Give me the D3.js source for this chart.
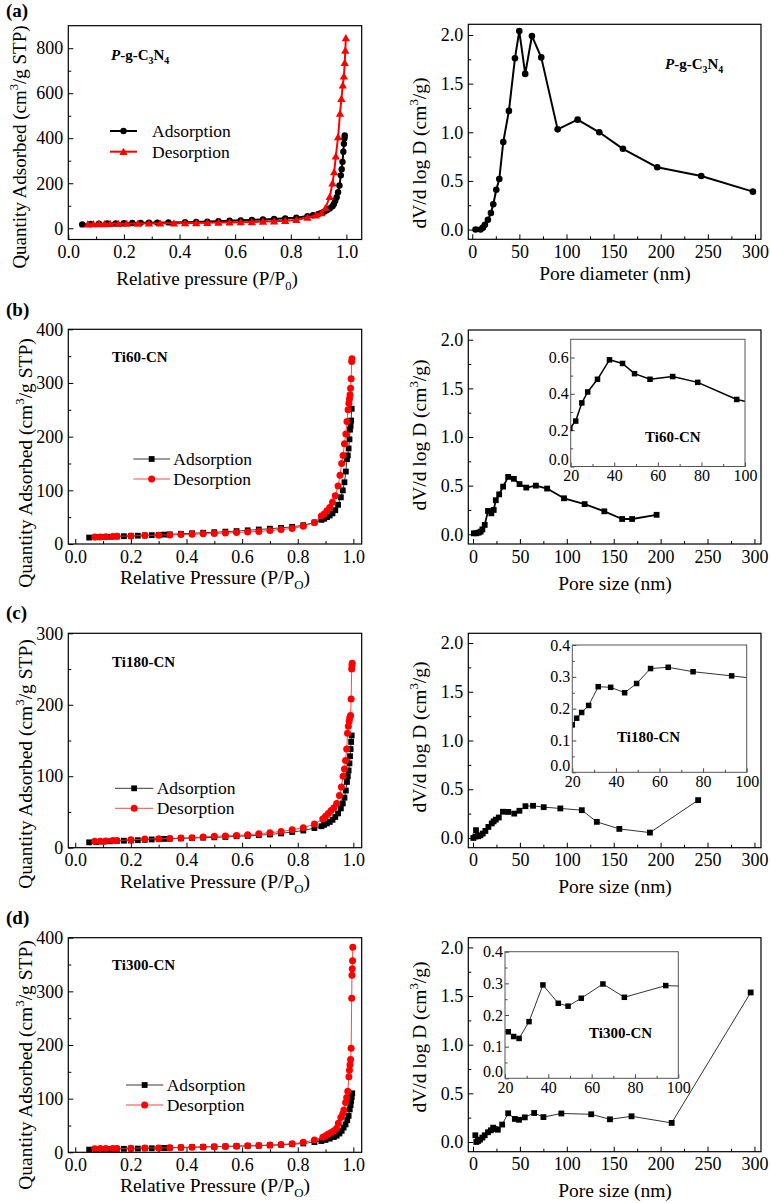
<!DOCTYPE html>
<html><head><meta charset="utf-8">
<script src="https://cdn.jsdelivr.net/npm/d3@7"></script>
<style>
body{margin:0;background:#fff}
svg{display:block}
text{font-family:"Liberation Serif","Times New Roman",serif;fill:#000}
</style>
</head><body>
<svg id="chart" width="770" height="1203"></svg>
<script>
// ---------------- DATA ----------------
// (a) P-g-C3N4 isotherm
const aAdsP = [0.05,0.08,0.11,0.14,0.17,0.2,0.23,0.26,0.29,0.32,0.36,0.42,0.46,0.5,0.54,0.58,0.62,0.66,0.7,0.74,0.78,0.82,0.86,0.88,0.9,0.91,0.92,0.93,0.94,0.95,0.955,0.96,0.965,0.97,0.975,0.98,0.983,0.986,0.989,0.991,0.993,0.994];
const aAdsQ = [17,19,20,21,21.5,22,23,24,24.5,25,26,27,28,29.5,31,33,35,37,39,41,44,47,54,58,64,68,73,80,88,98,108,122,138,160,190,235,262,295,340,375,400,412];
const aDesP = [0.07,0.09,0.11,0.13,0.15,0.18,0.21,0.25,0.29,0.33,0.38,0.42,0.46,0.5,0.54,0.58,0.62,0.66,0.7,0.74,0.78,0.82,0.86,0.89,0.91,0.925,0.94,0.95,0.956,0.962,0.97,0.977,0.982,0.987,0.991,0.994,0.996,0.998];
const aDesQ = [18,18.5,19,19,19.5,20,20.5,21,21.5,22,22.5,23,23.5,24,25,26,27,28,29.5,31,33,37,48,58,68,90,140,200,250,320,405,510,575,635,675,735,790,845];
// (a) pore size distribution
const aPoreD = [3.5,8.8,11.3,13.4,16.6,19.8,22.3,25.5,28.7,32.9,38.9,45.3,49.9,56.2,63.3,73.2,90.6,111.8,134.8,159.9,196.3,243,297.8];
const aPoreV = [0,0,0.02,0.05,0.1,0.17,0.26,0.41,0.52,0.9,1.22,1.76,2.04,1.6,1.99,1.77,1.03,1.13,1.0,0.83,0.64,0.55,0.39];

// (b) Ti60-CN
const bAdsP = [0.05,0.075,0.1,0.125,0.15,0.175,0.2,0.225,0.25,0.275,0.3,0.32,0.34,0.38,0.42,0.46,0.5,0.54,0.58,0.62,0.66,0.7,0.74,0.78,0.82,0.86,0.885,0.895,0.905,0.915,0.925,0.935,0.945,0.955,0.962,0.968,0.973,0.977,0.98,0.983,0.986,0.988,0.99,0.992,0.994];
const bAdsQ = [12,12.5,13,13.5,14,14.5,15,15.5,16,16.5,17,17.5,18,19,20,21,22,23,24,25.5,27,28.5,30,32,35,40,45,47,50,53,57,63,73,87,100,115,135,158,165,178,195,213,220,230,252];
const bDesP = [0.07,0.09,0.11,0.135,0.15,0.2,0.25,0.3,0.34,0.38,0.42,0.46,0.5,0.54,0.58,0.62,0.66,0.7,0.74,0.78,0.82,0.86,0.885,0.895,0.905,0.915,0.925,0.935,0.945,0.952,0.958,0.963,0.968,0.973,0.977,0.981,0.984,0.986,0.988,0.99,0.992,0.994,0.995];
const bDesQ = [13,13,13.5,14,14.5,15,16,16.5,17,17.5,18,19,19.5,20.5,21.5,22.5,23.5,25,27,29,33,40,52,56,62,68,78,90,108,128,150,165,187,205,228,250,262,270,278,290,308,340,345];
const bPoreD = [1,3.6,6,8.2,10,12.5,16,19.6,22.1,24.3,27.9,32.1,37.5,43.6,49.6,56.8,67,79,97,119,140,159,169.6,195.7];
const bPoreV = [0.01,0.01,0.017,0.027,0.05,0.096,0.24,0.215,0.25,0.35,0.41,0.49,0.59,0.57,0.516,0.48,0.5,0.47,0.37,0.31,0.236,0.157,0.157,0.2];
const bInsetD = [19.6,22.3,25.1,27.8,32.3,37.8,43.8,49.3,56.4,66.8,78.3,96.2,119];
const bInsetV = [0.21,0.25,0.35,0.41,0.48,0.587,0.567,0.511,0.48,0.495,0.463,0.369,0.31];

// (c) Ti180-CN
const cAdsP = [0.05,0.075,0.1,0.125,0.15,0.175,0.2,0.225,0.25,0.275,0.3,0.32,0.34,0.38,0.42,0.46,0.5,0.54,0.58,0.62,0.66,0.7,0.74,0.78,0.82,0.86,0.885,0.895,0.905,0.915,0.925,0.935,0.945,0.955,0.962,0.968,0.973,0.977,0.98,0.983,0.986,0.988,0.99,0.992,0.994];
const cAdsQ = [7.5,8,8.5,9,9.5,9.8,10,10.5,11,11.5,12,12.3,12.6,13,13.5,14,14.5,15,16,16.5,17.5,18.5,20,22,24,27.5,30,32,34,36,39,43,48,55,62,70,80,92,100,108,118,128,138,148,157];
const cDesP = [0.07,0.09,0.11,0.135,0.15,0.2,0.25,0.3,0.34,0.38,0.42,0.46,0.5,0.54,0.58,0.62,0.66,0.7,0.74,0.78,0.82,0.86,0.89,0.9,0.91,0.92,0.93,0.94,0.95,0.957,0.963,0.968,0.972,0.976,0.979,0.982,0.985,0.987,0.99,0.992,0.994,0.995,0.996];
const cDesQ = [9,9,9.5,10,10,11,12,12.5,13,13.5,14,15,16,16.5,17,18,19.5,21,22.5,25,28,33,40,44,48,52,56,62,73,85,100,110,122,138,160,170,177,182,185,208,250,255,258];
const cPoreD = [0.4,2.5,3.2,5.4,7.9,10.4,13.2,16.4,20,22,24.3,27.5,31.9,37.6,44,49.5,55.9,64,75.4,93.1,116,132,156,188.6,240];
const cPoreV = [0,0.015,0.08,0.017,0.027,0.045,0.072,0.113,0.149,0.17,0.188,0.21,0.269,0.267,0.25,0.279,0.326,0.33,0.316,0.303,0.285,0.165,0.093,0.055,0.388];
const cInsetD = [20,22,24.3,27.5,31.9,37.6,44,49.5,55.9,64,75.4,93.1,116];
const cInsetV = [0.149,0.17,0.188,0.21,0.269,0.267,0.25,0.279,0.326,0.33,0.316,0.303,0.285];

// (d) Ti300-CN
const dAdsP = [0.05,0.075,0.1,0.125,0.15,0.175,0.2,0.225,0.25,0.275,0.3,0.32,0.34,0.38,0.42,0.46,0.5,0.54,0.58,0.62,0.66,0.7,0.74,0.78,0.82,0.86,0.885,0.9,0.915,0.93,0.94,0.95,0.958,0.965,0.972,0.978,0.983,0.987,0.99,0.992,0.994,0.996];
const dAdsQ = [5,5.5,6,6,6.5,6.5,7,7,7.5,7.5,8,8,8.5,9,9.5,10,10.5,11,11.5,12,12.5,13,14,15,16.5,19,21,23,25.5,28.5,31,35,40,46,52,60,68,80,88,96,103,110];
const dDesP = [0.07,0.09,0.11,0.135,0.15,0.2,0.25,0.3,0.34,0.38,0.42,0.46,0.5,0.54,0.58,0.62,0.66,0.7,0.74,0.78,0.82,0.86,0.89,0.9,0.91,0.92,0.93,0.94,0.946,0.955,0.962,0.966,0.972,0.976,0.98,0.984,0.986,0.988,0.99,0.992,0.994,0.995,0.996,0.997,0.998];
const dDesQ = [6.5,7,7,7,7,7.5,8,8,8.5,9,9.5,10,10.5,11,11.5,12,12.5,13.5,14.5,16,18.5,23,28,31,34,37,40,45,54,65,72,79,93,102,114,141,153,163,173,194,287,330,342,357,382];
const dPoreD = [2.5,3.6,5.4,7.5,10,12.5,16,19,21.5,24,26.5,31.1,37.5,44.6,49.1,55.2,65.2,75.1,94.2,126,146,169,211.8,296];
const dPoreV = [0.069,0,0.01,0.024,0.045,0.069,0.1,0.12,0.147,0.132,0.126,0.179,0.295,0.237,0.228,0.253,0.298,0.256,0.293,0.285,0.233,0.264,0.196,1.537];
const dInsetD = [21.5,24,26.5,31.1,37.5,44.6,49.1,55.2,65.2,75.1,94.2,126];
const dInsetV = [0.147,0.132,0.126,0.179,0.295,0.237,0.228,0.253,0.298,0.256,0.293,0.285];

// tick values
const pressureTicks = [0,0.2,0.4,0.6,0.8,1.0];
const pressureMinor = [0.1,0.3,0.5,0.7,0.9];
const poreTicks = [0,50,100,150,200,250,300];
const poreMinor = [25,75,125,175,225,275];
const dvTicks = [0,0.5,1.0,1.5,2.0];
const dvMinor = [0.25,0.75,1.25,1.75];
const insetXTicks = [20,40,60,80,100];
const insetXMinor = [30,50,70,90];

// ---------------- DRAWING ----------------
const FONT = '"Liberation Serif","Times New Roman",serif';
const svg = d3.select('#chart');
const defs = svg.append('defs');
let clipN = 0;

function rich(parent, x, y, parts, o) {
  const t = parent.append('text').attr('x', x).attr('y', y)
    .attr('font-size', o.size).attr('text-anchor', o.anchor || 'start');
  if (o.bold) t.attr('font-weight', 'bold');
  if (o.rotate) t.attr('transform', `rotate(-90,${x},${y})`);
  let shift = 0;
  parts.forEach(p => {
    if (typeof p === 'string') p = {t: p};
    const s = t.append('tspan').text(p.t);
    const target = p.sub ? o.size * 0.28 : p.sup ? -o.size * 0.4 : 0;
    if (target !== shift) { s.attr('dy', target - shift); shift = target; }
    if (p.sub || p.sup) s.attr('font-size', o.size * 0.66);
    if (p.italic) s.attr('font-style', 'italic');
  });
  return t;
}

function marker(g, type, cx, cy, size, color) {
  if (type === 'circle') {
    g.append('circle').attr('cx', cx).attr('cy', cy).attr('r', size).attr('fill', color);
  } else if (type === 'square') {
    g.append('rect').attr('x', cx - size / 2).attr('y', cy - size / 2)
      .attr('width', size).attr('height', size).attr('fill', color);
  } else {
    g.append('path').attr('transform', `translate(${cx},${cy + 0.8})`)
      .attr('d', d3.symbol().type(d3.symbolTriangle).size(size)()).attr('fill', color);
  }
}

function axis(g, gen, tr, values, fmt, len, pad, fs, color) {
  const a = g.append('g').attr('transform', tr);
  a.call(gen.tickValues(values).tickFormat(fmt).tickSizeInner(-len).tickSizeOuter(0).tickPadding(pad));
  a.select('.domain').remove();
  a.attr('font-family', FONT).attr('font-size', fs);
  a.selectAll('line').attr('stroke', color).attr('stroke-width', 1);
  a.selectAll('text').attr('fill', '#000');
  return a;
}

function drawPanel(p) {
  const [L, R, T, B] = p.box;
  const x = d3.scaleLinear().domain(p.xDomain).range([L, R]);
  const y = d3.scaleLinear().domain(p.yDomain).range([B, T]);
  const g = svg.append('g');
  if (p.inset) g.append('rect').attr('x', L).attr('y', T).attr('width', R - L).attr('height', B - T).attr('fill', '#fff');
  const id = 'clip' + (clipN++);
  defs.append('clipPath').attr('id', id).append('rect')
    .attr('x', L).attr('y', T).attr('width', R - L).attr('height', B - T);

  const fs = p.tickFont, tc = p.inset ? '#444' : '#000';
  const maj = p.inset ? 4 : 5, mnr = p.inset ? 2.5 : 3;
  axis(g, d3.axisBottom(x), `translate(0,${B})`, p.xTicks, p.xFmt, maj, p.xPad, fs, tc);
  axis(g, d3.axisBottom(x), `translate(0,${B})`, p.xMinor, () => '', mnr, 0, fs, tc);
  const ya = axis(g, d3.axisLeft(y), `translate(${L},0)`, p.yTicks, p.yFmt, maj, p.yPad, fs, tc);
  axis(g, d3.axisLeft(y), `translate(${L},0)`, p.yMinor, () => '', mnr, 0, fs, tc);
  if (p.inset) ya.selectAll('.tick').filter(d => d === 0).select('text').attr('dy', '-0.12em');

  const plot = g.append('g').attr('clip-path', `url(#${id})`);
  p.series.forEach(s => {
    const pts = d3.zip(s.xs, s.ys);
    plot.append('path').datum(pts)
      .attr('d', d3.line().x(d => x(d[0])).y(d => y(d[1])))
      .attr('fill', 'none').attr('stroke', s.lineColor || s.color)
      .attr('stroke-width', s.lw).attr('stroke-linejoin', 'round');
    const mg = plot.append('g');
    pts.forEach(d => marker(mg, s.marker, x(d[0]), y(d[1]), s.size, s.color));
  });

  g.append('rect').attr('x', L).attr('y', T).attr('width', R - L).attr('height', B - T)
    .attr('fill', 'none').attr('stroke', p.inset ? '#555' : '#000').attr('stroke-width', p.inset ? 1 : 1.2);

  (p.legend || []).forEach(l => {
    g.append('line').attr('x1', l.x1).attr('x2', l.x2).attr('y1', l.y).attr('y2', l.y)
      .attr('stroke', l.s.lineColor || l.s.color).attr('stroke-width', l.s.lw);
    marker(g, l.s.marker, (l.x1 + l.x2) / 2, l.y, l.s.size, l.s.color);
    g.append('text').attr('x', l.tx).attr('y', l.y + 6).attr('font-size', 17.5).text(l.label);
  });
}

// series style helpers
const isoA = {
  ads: {xs: aAdsP, ys: aAdsQ, color: '#000', lw: 2, marker: 'circle', size: 3.2},
  des: {xs: aDesP, ys: aDesQ, color: '#ff0000', lw: 2, marker: 'triangle', size: 30}
};
function isoSeries(xa, ya, xd, yd) {
  return {
    ads: {xs: xa, ys: ya, color: '#000', lineColor: '#222', lw: 0.9, marker: 'square', size: 5.8},
    des: {xs: xd, ys: yd, color: '#ff0000', lineColor: '#ff3030', lw: 0.9, marker: 'circle', size: 3.5}
  };
}
const isoB = isoSeries(bAdsP, bAdsQ, bDesP, bDesQ);
const isoC = isoSeries(cAdsP, cAdsQ, cDesP, cDesQ);
const isoD = isoSeries(dAdsP, dAdsQ, dDesP, dDesQ);

const LX = [68.3, 361.7], RX = [468.3, 761];
const f1 = d3.format('.1f'), fd = d3.format('d');

function leftPanel(top, bottom, xDomain, yDomain, yTicks, yMinor, iso, legend) {
  drawPanel({box: [LX[0], LX[1], top, bottom], xDomain, yDomain,
    xTicks: pressureTicks, xMinor: pressureMinor, yTicks, yMinor, xFmt: f1, yFmt: fd,
    xPad: 6, yPad: 5, tickFont: 18,
    series: [iso.ads, iso.des],
    legend: [
      {x1: legend[0], x2: legend[1], tx: legend[2], y: legend[3], s: iso.ads, label: 'Adsorption'},
      {x1: legend[0], x2: legend[1], tx: legend[2], y: legend[4], s: iso.des, label: 'Desorption'}
    ]});
}
function rightPanel(top, bottom, series) {
  drawPanel({box: [RX[0], RX[1], top, bottom], xDomain: [-5, 307], yDomain: [-0.1, 2.1],
    xTicks: poreTicks, xMinor: poreMinor, yTicks: dvTicks, yMinor: dvMinor, xFmt: fd, yFmt: f1,
    xPad: 6, yPad: 5, tickFont: 18, series: [series]});
}
function insetPanel(box, yDomain, yTicks, yMinor, series) {
  drawPanel({box, inset: true, xDomain: [20, 100], yDomain,
    xTicks: insetXTicks, xMinor: insetXMinor, yTicks, yMinor, xFmt: fd, yFmt: f1,
    xPad: 3, yPad: 2, tickFont: 16, series: [series]});
}

// Row (a)
leftPanel(25.7, 239.5, [0, 1.055], [-50, 900], [0,200,400,600,800], [100,300,500,700], isoA,
  [110, 137, 152, 131, 151.7]);
drawPanel({box: [RX[0], RX[1], 24.3, 239.3], xDomain: [-4.2, 306.4], yDomain: [-0.1, 2.11],
  xTicks: poreTicks, xMinor: poreMinor, yTicks: dvTicks, yMinor: dvMinor, xFmt: fd, yFmt: f1,
  xPad: 6, yPad: 5, tickFont: 18,
  series: [{xs: aPoreD, ys: aPoreV, color: '#000', lw: 2, marker: 'circle', size: 3.3}]});

// Row (b)
leftPanel(329.3, 544, [-0.025, 1.03], [0, 400], [0,100,200,300,400], [50,150,250,350], isoB,
  [133.3, 170, 173.3, 459, 479]);
rightPanel(330, 544, {xs: bPoreD, ys: bPoreV, color: '#000', lw: 1.8, marker: 'square', size: 5.8});
insetPanel([570.7, 745, 339.3, 466.5], [0, 0.7], [0,0.2,0.4,0.6], [0.1,0.3,0.5],
  {xs: bInsetD, ys: bInsetV, color: '#000', lw: 1.5, marker: 'square', size: 5.5});

// Row (c)
leftPanel(633.3, 847.7, [-0.025, 1.03], [0, 300], [0,100,200,300], [50,150,250], isoC,
  [115, 153.3, 156.7, 788.3, 808.3]);
rightPanel(633.3, 847.7, {xs: cPoreD, ys: cPoreV, color: '#000', lineColor: '#333', lw: 1, marker: 'square', size: 5.8});
insetPanel([572.3, 746.7, 645, 772.3], [0, 0.4], [0,0.1,0.2,0.3,0.4], [0.05,0.15,0.25,0.35],
  {xs: cInsetD, ys: cInsetV, color: '#000', lineColor: '#333', lw: 1, marker: 'square', size: 5.5});

// Row (d)
leftPanel(937.7, 1152.3, [-0.025, 1.03], [0, 400], [0,100,200,300,400], [50,150,250,350], isoD,
  [126, 163.3, 166.7, 1085, 1105]);
rightPanel(937.7, 1151.7, {xs: dPoreD, ys: dPoreV, color: '#000', lineColor: '#333', lw: 1, marker: 'square', size: 5.8});
insetPanel([505, 678.3, 951.7, 1078.3], [0, 0.4], [0,0.1,0.2,0.3,0.4], [0.05,0.15,0.25,0.35],
  {xs: dInsetD, ys: dInsetV, color: '#000', lineColor: '#333', lw: 1, marker: 'square', size: 5.5});

// ---------------- TEXT ----------------
const T = svg.append('g');
// panel letters
[['(a)', 17], ['(b)', 316], ['(c)', 619], ['(d)', 924]].forEach(([s, yy]) =>
  T.append('text').attr('x', 6).attr('y', yy).attr('font-size', 19).attr('font-weight', 'bold').text(s));

// y labels (left)
const qParts = ['Quantity Adsorbed (cm', {t: '3', sup: true}, '/g STP)'];
rich(T, 25.5, 147, qParts, {size: 19, anchor: 'middle', rotate: true});
rich(T, 32, 463, qParts, {size: 19.5, anchor: 'middle', rotate: true});
rich(T, 32, 764, qParts, {size: 19.5, anchor: 'middle', rotate: true});
rich(T, 32, 1065, qParts, {size: 19.5, anchor: 'middle', rotate: true});
// y labels (right)
const dvParts = ['dV/d log D (cm', {t: '3', sup: true}, '/g)'];
[153, 435, 737, 1037].forEach(cy => rich(T, 425.5, cy, dvParts, {size: 19.5, anchor: 'middle', rotate: true}));

// x labels
rich(T, 207, 285, ['Relative pressure (P/P', {t: '0', sub: true}, ')'], {size: 19, anchor: 'middle'});
[584, 888, 1192].forEach(yy =>
  rich(T, 215, yy, ['Relative Pressure (P/P', {t: 'O', sub: true}, ')'], {size: 19.5, anchor: 'middle'}));
T.append('text').attr('x', 615).attr('y', 280).attr('font-size', 19.5).attr('text-anchor', 'middle').text('Pore diameter (nm)');
[590, 893, 1197].forEach(yy =>
  T.append('text').attr('x', 615).attr('y', yy).attr('font-size', 19.5).attr('text-anchor', 'middle').text('Pore size (nm)'));

// sample annotations
const pgParts = [{t: 'P', italic: true}, '-g-C', {t: '3', sub: true}, 'N', {t: '4', sub: true}];
rich(T, 111, 60, pgParts, {size: 15, bold: true});
rich(T, 665, 69, pgParts, {size: 15, bold: true});
[['Ti60-CN', 112, 362], ['Ti180-CN', 112, 667], ['Ti300-CN', 112, 970],
 ['Ti60-CN', 645, 442], ['Ti180-CN', 617, 742], ['Ti300-CN', 589, 1038]].forEach(([s, xx, yy]) =>
  T.append('text').attr('x', xx).attr('y', yy).attr('font-size', 15).attr('font-weight', 'bold').text(s));
</script>
</body></html>
